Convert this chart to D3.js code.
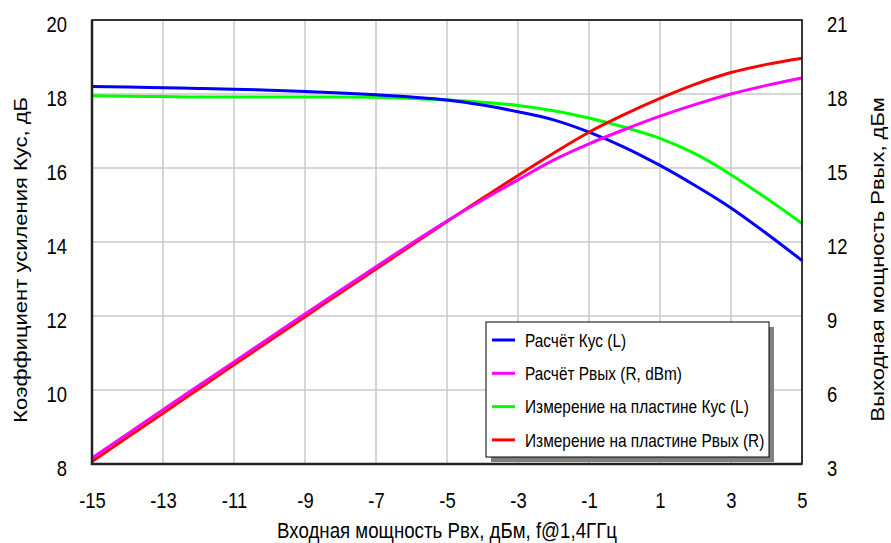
<!DOCTYPE html>
<html>
<head>
<meta charset="utf-8">
<script src="https://cdn.jsdelivr.net/npm/d3@7"></script>
<style>
  body { margin: 0; background: #fff; }
  svg { display: block; font-family: "Liberation Sans", Arial, sans-serif; }
</style>
</head>
<body>
<svg class="chart"></svg>
<script>
// input power, dBm
var pin = [-15, -14, -13, -12, -11, -10, -9, -8, -7, -6, -5, -4, -3, -2, -1, 0, 1, 2, 3, 4, 5];
// gain, dB (left axis)
var gainCalc = [18.20, 18.19, 18.17, 18.15, 18.13, 18.10, 18.07, 18.03, 17.98, 17.92, 17.84, 17.70, 17.52, 17.30, 16.97, 16.56, 16.07, 15.52, 14.92, 14.23, 13.50];
var gainMeas = [17.95, 17.94, 17.93, 17.92, 17.92, 17.92, 17.92, 17.92, 17.91, 17.88, 17.84, 17.78, 17.69, 17.55, 17.35, 17.10, 16.80, 16.38, 15.82, 15.18, 14.50];
// output power, dBm (right axis)
var poutCalc = [3.24, 4.22, 5.20, 6.17, 7.14, 8.11, 9.08, 10.04, 11.00, 11.94, 12.85, 13.70, 14.52, 15.32, 15.98, 16.56, 17.10, 17.58, 18.00, 18.35, 18.65];
var poutMeas = [3.10, 4.08, 5.06, 6.04, 7.02, 8.00, 8.97, 9.94, 10.91, 11.87, 12.83, 13.77, 14.70, 15.60, 16.45, 17.17, 17.82, 18.40, 18.87, 19.20, 19.45];

var xTicks = [-15, -13, -11, -9, -7, -5, -3, -1, 1, 3, 5];
var yLeftTicks = [8, 10, 12, 14, 16, 18, 20];
var yRightTicks = [3, 6, 9, 12, 15, 18, 21];

var legendNames = ["Расчёт Кус (L)", "Расчёт Рвых (R, dBm)", "Измерение на пластине Кус (L)", "Измерение на пластине Рвых (R)"];
var legendColors = ["#0000ff", "#ff00ff", "#00ff00", "#ff0000"];

var width = 891,
    height = 543,
    plotL = 92, plotR = 802, plotT = 20, plotB = 464,
    narrow = 0.82; // the reference picture is squeezed sideways, so text is too

var svg = d3.select(".chart")
    .attr("width", width)
    .attr("height", height);

var x = d3.scaleLinear().domain([-15, 5]).range([plotL, plotR]);
var yL = d3.scaleLinear().domain([8, 20]).range([plotB, plotT]);
var yR = d3.scaleLinear().domain([3, 21]).range([plotB, plotT]);

//grid
svg.append("g").selectAll("line")
    .data(xTicks)
    .enter().append("line")
    .attr("x1", x).attr("x2", x)
    .attr("y1", plotT).attr("y2", plotB)
    .style("stroke", "#c8c8c8")
    .style("stroke-width", 1.5);

svg.append("g").selectAll("line")
    .data(yLeftTicks)
    .enter().append("line")
    .attr("x1", plotL).attr("x2", plotR)
    .attr("y1", yL).attr("y2", yL)
    .style("stroke", "#c8c8c8")
    .style("stroke-width", 1.5);

//axes, labels only
var fmt = function(d) { return String(d); };

var xAxis = svg.append("g")
    .attr("transform", "translate(0," + plotB + ")")
    .call(d3.axisBottom(x).tickValues(xTicks).tickSize(0).tickFormat(fmt));
xAxis.selectAll("text").attr("y", 44).attr("dy", null);

var yAxisL = svg.append("g")
    .attr("transform", "translate(" + plotL + ",0)")
    .call(d3.axisLeft(yL).tickValues(yLeftTicks).tickSize(0).tickFormat(fmt));
yAxisL.selectAll("text").attr("x", -25 / narrow).attr("dy", "0.52em");

var yAxisR = svg.append("g")
    .attr("transform", "translate(" + plotR + ",0)")
    .call(d3.axisRight(yR).tickValues(yRightTicks).tickSize(0).tickFormat(fmt));
yAxisR.selectAll("text").attr("x", 25 / narrow).attr("dy", "0.52em");

svg.selectAll(".domain").remove();
svg.selectAll(".tick text")
    .attr("transform", "scale(" + narrow + ",1)")
    .attr("font-size", null)
    .attr("font-family", null)
    .style("font-size", "22.5px")
    .attr("fill", "#000");

//series
var series = [
  {vals: gainMeas, y: yL, color: legendColors[2]},
  {vals: gainCalc, y: yL, color: legendColors[0]},
  {vals: poutMeas, y: yR, color: legendColors[3]},
  {vals: poutCalc, y: yR, color: legendColors[1]}
];

series.forEach(function(s) {
  var line = d3.line()
      .x(function(d, i) { return x(pin[i]); })
      .y(function(d) { return s.y(d); })
      .curve(d3.curveMonotoneX);
  svg.append("path")
      .datum(s.vals)
      .attr("d", line)
      .style("fill", "none")
      .style("stroke", s.color)
      .style("stroke-width", 3);
});

//plot frame
svg.append("rect")
    .attr("x", plotL).attr("y", plotT)
    .attr("width", plotR - plotL).attr("height", plotB - plotT)
    .style("fill", "none")
    .style("stroke", "#000")
    .style("stroke-width", 1.5);
svg.append("path")
    .attr("d", "M" + plotL + "," + plotT + "V" + plotB + "H" + plotR)
    .style("fill", "none")
    .style("stroke", "#222")
    .style("stroke-width", 2.5);

//axis titles
svg.append("text")
    .attr("transform", "translate(" + ((plotL + plotR) / 2) + ",538) scale(" + narrow + ",1)")
    .attr("text-anchor", "middle")
    .style("font-size", "22.8px")
    .text("Входная мощность Рвх, дБм, f@1,4ГГц");

// rotated titles: squeeze goes across the glyphs, not along the line
svg.append("text")
    .attr("transform", "translate(27,97) rotate(-90) scale(1," + narrow + ")")
    .attr("text-anchor", "end")
    .style("font-size", "22px")
    .text("Коэффициент усиления Кус, дБ");

svg.append("text")
    .attr("transform", "translate(884,97) rotate(-90) scale(1," + narrow + ")")
    .attr("text-anchor", "end")
    .style("font-size", "22px")
    .text("Выходная мощность Рвых, дБм");

//legend
var lg = svg.append("g").attr("transform", "translate(486,322)");
lg.append("rect")
    .attr("x", 5).attr("y", 5)
    .attr("width", 283).attr("height", 135)
    .style("fill", "#808080");
lg.append("rect")
    .attr("width", 283).attr("height", 135)
    .style("fill", "#fff")
    .style("stroke", "#000")
    .style("stroke-width", 1);

var item = lg.selectAll(".item")
    .data(legendNames)
    .enter().append("g")
    .attr("transform", function(d, i) { return "translate(0," + (18 + i * 33.3) + ")"; });

item.append("line")
    .attr("x1", 6).attr("x2", 29)
    .style("stroke", function(d, i) { return legendColors[i]; })
    .style("stroke-width", 3);

item.append("text")
    .attr("transform", "translate(39,0) scale(" + narrow + ",1)")
    .attr("dy", "0.36em")
    .style("font-size", "18.8px")
    .text(function(d) { return d; });
</script>
</body>
</html>
